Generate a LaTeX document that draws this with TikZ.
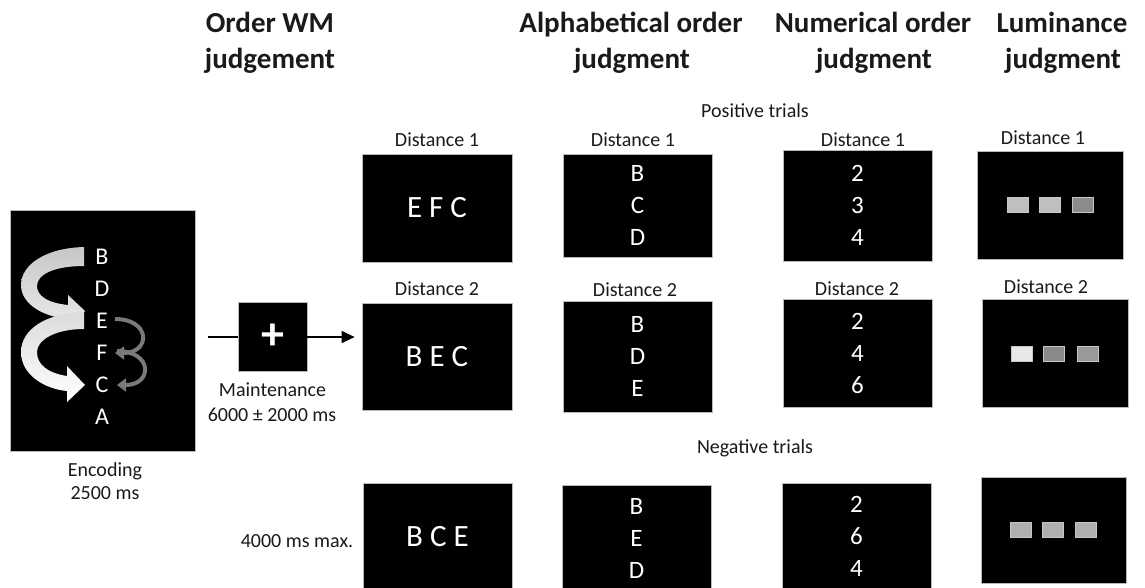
\documentclass[tikz,border=0pt]{standalone}
\usepackage{fontspec}
\setmainfont{Carlito}
\usetikzlibrary{arrows.meta,calc}
\definecolor{txt}{HTML}{1A1A1A}
\definecolor{darkar}{HTML}{7A7A7A}
\begin{document}
\begin{tikzpicture}[x=1pt,y=-1pt,
  scr/.style={draw=gray!55, line width=0.7pt, fill=black, text=white, inner sep=0pt},
  head/.style={font=\fontsize{29}{34}\selectfont\bfseries, anchor=base, inner sep=0pt, text=txt},
  lab/.style={font=\fontsize{20}{24}\selectfont, anchor=base, inner sep=0pt, text=txt},
  big/.style={font=\fontsize{31}{36}\selectfont},
  col/.style={font=\fontsize{25}{32}\selectfont, align=center},
  enc/.style={font=\fontsize{24}{26}\selectfont, text=white, inner sep=0.5pt},
  sq/.style={draw=gray!45, line width=0.4pt, minimum width=21pt, minimum height=15pt, inner sep=0pt},
  darkarrow/.style={draw=darkar, line width=4pt, -{Triangle[length=9pt,width=13pt]}},
  conn/.style={line width=1.1pt, draw=black}
]
\useasboundingbox[fill=white] (0,0) rectangle (1145,587);

% headings
\node[head] (h1a) at (270,32) {Order WM};
\node[head] (h1b) at (270,68) {judgement};
\node[head] (h2a) at (631,32) {Alphabetical order};
\node[head] (h2b) at (632,68) {judgment};
\node[head] (h3a) at (873,32) {Numerical order};
\node[head] (h3b) at (874,68) {judgment};
\node[head] (h4a) at (1062,32) {Luminance};
\node[head] (h4b) at (1063,68) {judgment};

\node[lab] (pos) at (755,117) {Positive trials};
\node[lab] (neg) at (755,453) {Negative trials};

% encoding
\node[scr, minimum width=185pt, minimum height=241pt] (encbox) at (102.5,330.5) {};
\node[lab] (enclab1) at (105,476) {Encoding};
\node[lab] (enclab2) at (105,499) {2500 ms};

% ribbon arrows
\shade[top color=black!22, bottom color=black!8]
 (84,247) .. controls (45,248) and (21,265) .. (21,285)
 .. controls (21,305) and (45,317) .. (68,319)
 -- (68,328) -- (85,311) -- (68,295) -- (68,305)
 .. controls (48,303) and (37,296) .. (37,286)
 .. controls (37,274) and (55,266) .. (84,266) -- cycle;
\shade[top color=black!14, bottom color=white]
 (84,312) .. controls (45,313) and (21,330) .. (21,352)
 .. controls (21,375) and (45,389) .. (67,391)
 -- (67,402) -- (85,385) -- (67,366) -- (67,376)
 .. controls (48,373) and (37,365) .. (37,352)
 .. controls (37,340) and (55,329) .. (84,329) -- cycle;

\node[enc] (eB) at (102,257) {B};
\node[enc] (eD) at (102,289) {D};
\node[enc] (eE) at (102,321) {E};
\node[enc] (eF) at (102,353) {F};
\node[enc] (eC) at (102,385) {C};
\node[enc] (eA) at (102,417) {A};

\draw[darkarrow] ($(eE.center)+(13,-2)$) .. controls +(36,0) and +(36,0) .. ($(eF.center)+(13,0)$);
\draw[darkarrow] ($(eF.center)+(15,-2)$) .. controls +(36,0) and +(36,0) .. ($(eC.center)+(15,0)$);

% Order WM column
\node[lab] (od1) at (437,146) {Distance 1};
\node[scr, big, minimum width=150pt, minimum height=108pt] (o1) at (437,208) {E F C};
\node[lab] (od2) at (437,295) {Distance 2};
\node[scr, big, minimum width=150pt, minimum height=107pt] (o2) at (437,356.5) {B E C};
\node[scr, big, minimum width=149pt, minimum height=107pt] (o3) at (437.5,536.5) {B C E};

% maintenance
\coordinate (start) at (208,337);
\node[scr, minimum width=69pt, minimum height=69pt, font=\fontsize{46}{46}\selectfont\bfseries] (plus) at (272.5,337) {+};
\draw[conn] (start) -- (plus.west);
\draw[conn, -{Triangle[length=13pt,width=12pt]}, shorten >=7pt] (plus.east) -- (plus.east -| o2.west);
\node[lab] (mt1) at (272.5,396) {Maintenance};
\node[lab] (mt2) at (272,421) {6000 ± 2000 ms};
\node[lab] (mx) at (297,547) {4000 ms max.};

% Alphabetical column
\node[lab] (ad1) at (633,146) {Distance 1};
\node[scr, col, minimum width=149pt, minimum height=103pt] (a1) at (637.5,205.5) {B\\C\\D};
\node[lab] (ad2) at (635,296) {Distance 2};
\node[scr, col, minimum width=149pt, minimum height=111pt] (a2) at (637.5,356.5) {B\\D\\E};
\node[scr, col, minimum width=149pt, minimum height=107pt] (a3) at (636.5,538.5) {B\\E\\D};

% Numerical column
\node[lab] (nd1) at (863,146) {Distance 1};
\node[scr, col, minimum width=149pt, minimum height=111pt] (n1) at (857.5,205.5) {2\\3\\4};
\node[lab] (nd2) at (857,295) {Distance 2};
\node[scr, col, minimum width=149pt, minimum height=108pt] (n2) at (857.5,353) {2\\4\\6};
\node[scr, col, minimum width=149pt, minimum height=107pt] (n3) at (856.5,536.5) {2\\6\\4};

% Luminance column
\node[lab] (ld1) at (1043,144) {Distance 1};
\node[scr, minimum width=146pt, minimum height=108pt] (l1) at (1050,205) {};
\node[lab] (ld2) at (1046,293) {Distance 2};
\node[scr, minimum width=146pt, minimum height=108pt] (l2) at (1055,353) {};
\node[scr, minimum width=145pt, minimum height=106pt] (l3) at (1053.5,530) {};

\node[sq, fill=black!25] (s11) at (1017.5,204.5) {};
\node[sq, fill=black!25] (s12) at (1049.5,204.5) {};
\node[sq, fill=black!45] (s13) at (1082.5,204.5) {};
\node[sq, fill=black!9]  (s21) at (1021.5,353.5) {};
\node[sq, fill=black!46] (s22) at (1053.5,353.5) {};
\node[sq, fill=black!40] (s23) at (1087.5,353.5) {};
\node[sq, fill=black!31] (s31) at (1020.5,529.5) {};
\node[sq, fill=black!31] (s32) at (1052.5,529.5) {};
\node[sq, fill=black!31] (s33) at (1085.5,529.5) {};
\end{tikzpicture}
\end{document}
